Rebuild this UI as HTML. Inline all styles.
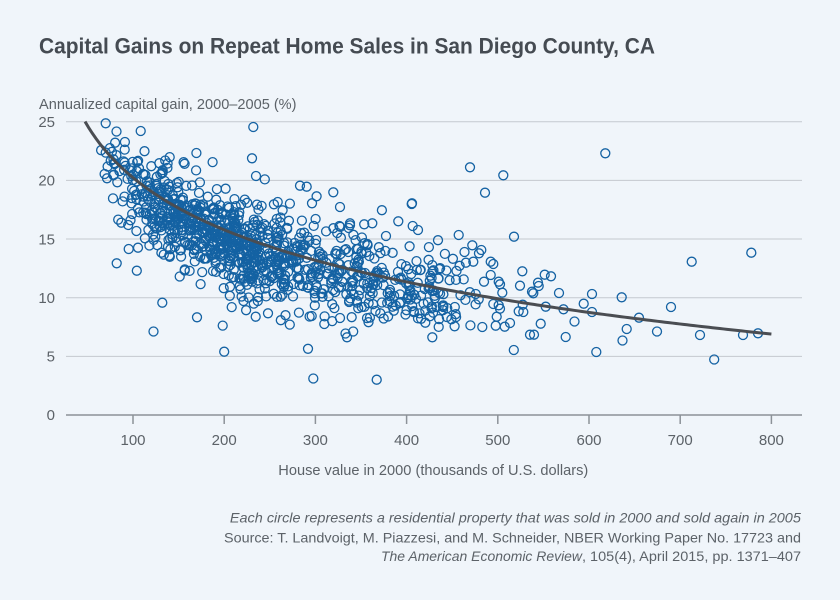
<!DOCTYPE html>
<html>
<head>
<meta charset="utf-8">
<style>
html,body{margin:0;padding:0;background:#f0f5fa;}
svg{display:block;}
text{font-family:"Liberation Sans",sans-serif;}
</style>
</head>
<body>
<svg id="s" width="840" height="600" viewBox="0 0 840 600" xmlns="http://www.w3.org/2000/svg">
<rect width="840" height="600" fill="#f0f5fa"/>
<text x="39" y="53.5" font-size="22" font-weight="bold" fill="#454b52" textLength="616" lengthAdjust="spacingAndGlyphs">Capital Gains on Repeat Home Sales in San Diego County, CA</text>
<text x="39" y="109" font-size="15" fill="#5c6268" textLength="257.5" lengthAdjust="spacingAndGlyphs">Annualized capital gain, 2000–2005 (%)</text>

<g stroke="#c4c9cf" stroke-width="1">
<line x1="66" x2="802" y1="121.75" y2="121.75"/>
<line x1="66" x2="802" y1="180.4" y2="180.4"/>
<line x1="66" x2="802" y1="239.05" y2="239.05"/>
<line x1="66" x2="802" y1="297.7" y2="297.7"/>
<line x1="66" x2="802" y1="356.35" y2="356.35"/>
</g>

<g font-size="15" fill="#5c6268" text-anchor="end">
<text x="55" y="127">25</text>
<text x="55" y="185.6">20</text>
<text x="55" y="244.3">15</text>
<text x="55" y="302.9">10</text>
<text x="55" y="361.6">5</text>
<text x="55" y="420.2">0</text>
</g>

<g id="pts" fill="none" stroke="#1462a3" stroke-width="1.3"></g>
<path id="curve" fill="none" stroke="#4a4d52" stroke-width="3"/>

<line x1="66" x2="802" y1="415" y2="415" stroke="#8c9298" stroke-width="1.5"/>
<g stroke="#8c9298" stroke-width="1.5">
<line x1="133" x2="133" y1="415" y2="424"/>
<line x1="224.2" x2="224.2" y1="415" y2="424"/>
<line x1="315.4" x2="315.4" y1="415" y2="424"/>
<line x1="406.6" x2="406.6" y1="415" y2="424"/>
<line x1="497.8" x2="497.8" y1="415" y2="424"/>
<line x1="589" x2="589" y1="415" y2="424"/>
<line x1="680.2" x2="680.2" y1="415" y2="424"/>
<line x1="771.4" x2="771.4" y1="415" y2="424"/>
</g>
<g font-size="15" fill="#5c6268" text-anchor="middle">
<text x="133" y="445">100</text>
<text x="224.2" y="445">200</text>
<text x="315.4" y="445">300</text>
<text x="406.6" y="445">400</text>
<text x="497.8" y="445">500</text>
<text x="589" y="445">600</text>
<text x="680.2" y="445">700</text>
<text x="771.4" y="445">800</text>
</g>
<text x="278.3" y="475" font-size="15" fill="#5c6268" textLength="310" lengthAdjust="spacingAndGlyphs">House value in 2000 (thousands of U.S. dollars)</text>

<text x="229.9" y="522.7" font-size="14" font-style="italic" fill="#5c6268" textLength="571" lengthAdjust="spacingAndGlyphs">Each circle represents a residential property that was sold in 2000 and sold again in 2005</text>
<text x="224" y="542.7" font-size="14" fill="#5c6268" textLength="577" lengthAdjust="spacingAndGlyphs">Source: T. Landvoigt, M. Piazzesi, and M. Schneider, NBER Working Paper No. 17723 and</text>
<text x="381" y="561" font-size="14" font-style="italic" fill="#5c6268" textLength="201" lengthAdjust="spacingAndGlyphs">The American Economic Review</text>
<text x="582" y="561" font-size="14" fill="#5c6268" textLength="219" lengthAdjust="spacingAndGlyphs">, 105(4), April 2015, pp. 1371–407</text>
</svg>
<script>
(function(){
  function mb(a){return function(){a|=0;a=a+0x6D2B79F5|0;var t=Math.imul(a^a>>>15,1|a);t=t+Math.imul(t^t>>>7,61|t)^t;return((t^t>>>14)>>>0)/4294967296;};}
  var rnd=mb(12345);
  function gauss(){var u=rnd()||1e-9,v=rnd();return Math.sqrt(-2*Math.log(u))*Math.cos(2*Math.PI*v);}
  function f(v){return 49.75-6.41*Math.log(v);}
  function px(v){return 41.8+0.912*v;}
  function py(y){return 415-11.73*y;}
  var out=[];
  function addP(x,y){out.push('<circle cx="'+x.toFixed(1)+'" cy="'+y.toFixed(1)+'" r="4.5"/>');}
  function gen(n,vfn,mu,sd){
    for(var i=0;i<n;i++){
      var v,y,tries=0;
      do{
        v=vfn();
        var e=mu+(rnd()<0.88?sd*gauss():sd*1.7*gauss());
        y=f(v)+e; tries++;
      }while((v<62||v>480||y<7.5||y>24.3)&&tries<50);
      addP(px(v),py(y));
    }
  }
  gen(700,function(){return 215*Math.exp(0.27*gauss());},-0.8,1.85);
  gen(130,function(){return 64+rnd()*96;},-1.0,1.9);
  gen(150,function(){return 300+rnd()*130;},-0.6,1.9);
  gen(40,function(){return 420+rnd()*50;},-0.3,2.0);
  var hand=[[605.3,153.3],[470,167.3],[503.3,175.3],[485,192.7],[514,236.7],[458.7,235],
  [522.3,271.3],[544.7,274.7],[551,276.3],[520,285.7],[538,282.7],[538.7,286],[532,291.7],[533.3,293.3],[559,293],
  [592,294],[621.7,297.3],[583.7,303.7],[545.7,306.7],[563.5,309.3],[592,312],[639,317.7],[522.7,304.7],[518.7,311.3],[523.3,312],[510,323],[504.7,326.7],[495.7,325.7],[540.7,323.7],[574.5,321.5],[530,334.7],[534,334.7],[565.7,337],[626.7,329],[622.5,340.5],[513.8,350],[596.3,352],[657,331.5],[671,307],[691.7,261.7],[700,335],[714.2,359.5],[743,335],[751.3,252.7],[758,333.3],[498.7,305.3],[500,308.7],[496.7,316.7],[493.3,304],[502.3,292.7],[500,284.3],[498.7,281.7],[490.7,275],[493.3,264],[490.7,261.7],[484,281.7],[482.3,327],[475.7,294],[478.7,299.3],[473.3,261.7],[472.3,245.3],[479,253.3],[481.3,250],[432.3,337.3],
  [105.7,123.3],[140.7,131],[253.3,127],[252,158.3],[256,176],[116.7,263.3],[128.7,249],[138,247.7],[121.3,222.7],[162.3,302.7],[153.5,331.5],[197,317.3],[224.2,351.7],[308,348.8],[313.3,378.5],[376.7,379.7],[255.7,316.7],[268,313.3],[311.7,316],[324.3,324],[345.5,333.5],[347,337.3],[353.2,331.5],[333.3,192.3],[300,185.7],[306.7,186.7],[340,207],
  [412,203.3],[398.3,221.3],[372.3,223.3],[350,223.3],[350,225.3],[412.7,226],[418,230],[386,236],[312,203.3],[411.7,204]];
  for(var i=0;i<hand.length;i++)addP(hand[i][0],hand[i][1]);
  document.getElementById('pts').innerHTML=out.join('');
  var d='';
  for(var v=47.4;v<=800.01;v+=4){d+=(d?'L':'M')+px(v).toFixed(2)+' '+py(f(v)).toFixed(2);}
  d+='L'+px(800).toFixed(2)+' '+py(f(800)).toFixed(2);
  document.getElementById('curve').setAttribute('d',d);
})();
</script>
</body>
</html>
